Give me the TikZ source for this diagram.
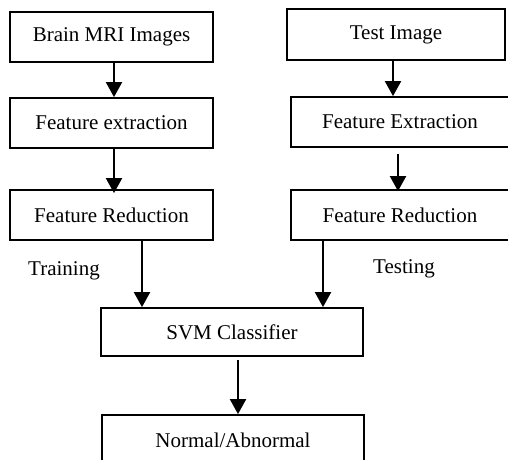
\documentclass[tikz,border=0pt]{standalone}
\usepackage{fontspec}
\setmainfont{Liberation Serif}
\usetikzlibrary{arrows.meta}
\begin{document}
\begin{tikzpicture}[x=1pt,y=-1pt,
  box/.style={draw=black, line width=1.8pt, rectangle, inner sep=0pt,
    font=\fontsize{21}{25}\selectfont},
  arr/.style={line width=2pt, -{Triangle[width=16pt,length=15pt]}},
  lbl/.style={font=\fontsize{21}{25}\selectfont, inner sep=0pt}]
  \useasboundingbox (0,0) rectangle (508,459);
  \clip (0,0) rectangle (508,459);
  % training branch
  \node[box, minimum width=203pt, minimum height=50pt] (b1) at (111.5,37) {Brain MRI Images};
  \node[box, minimum width=203pt, minimum height=50pt] (b2) at (111.5,123) {Feature extraction};
  \node[box, minimum width=203pt, minimum height=50pt] (b3) at (111.5,215) {Feature Reduction};
  % testing branch
  \node[box, minimum width=218pt, minimum height=51pt] (t1) at (396,34.5) {Test Image};
  \node[box, minimum width=218pt, minimum height=50pt] (t2) at (400,122) {Feature Extraction};
  \node[box, minimum width=218pt, minimum height=50pt] (t3) at (400,215) {Feature Reduction};
  % classifier and result
  \node[box, minimum width=262pt, minimum height=48pt] (svm) at (232,332) {SVM Classifier};
  \node[box, minimum width=262pt, minimum height=51pt] (out) at (233,440.5) {Normal/Abnormal};
  % branch labels
  \node[lbl, anchor=west] (ltr) at (28,271) {Training};
  \node[lbl, anchor=west] (lte) at (373,269) {Testing};
  % arrow columns
  \coordinate (xa) at (114,0);
  \coordinate (xb) at (393,0);
  \coordinate (xc) at (398,0);
  \coordinate (xtr) at (142,0);
  \coordinate (xte) at (323,0);
  \coordinate (xo) at (238,0);
  \draw[arr] (b1.south -| xa) -- (b2.north -| xa);
  \draw[arr] (b2.south -| xa) -- ([yshift=-4pt]b3.north -| xa);
  \draw[arr] (t1.south -| xb) -- (t2.north -| xb);
  \draw[arr] ([yshift=-6pt]t2.south -| xc) -- ([yshift=-2pt]t3.north -| xc);
  \draw[arr] (b3.south -| xtr) -- (svm.north -| xtr);
  \draw[arr] (t3.south -| xte) -- (svm.north -| xte);
  \draw[arr] ([yshift=-3pt]svm.south -| xo) -- (out.north -| xo);
\end{tikzpicture}
\end{document}
